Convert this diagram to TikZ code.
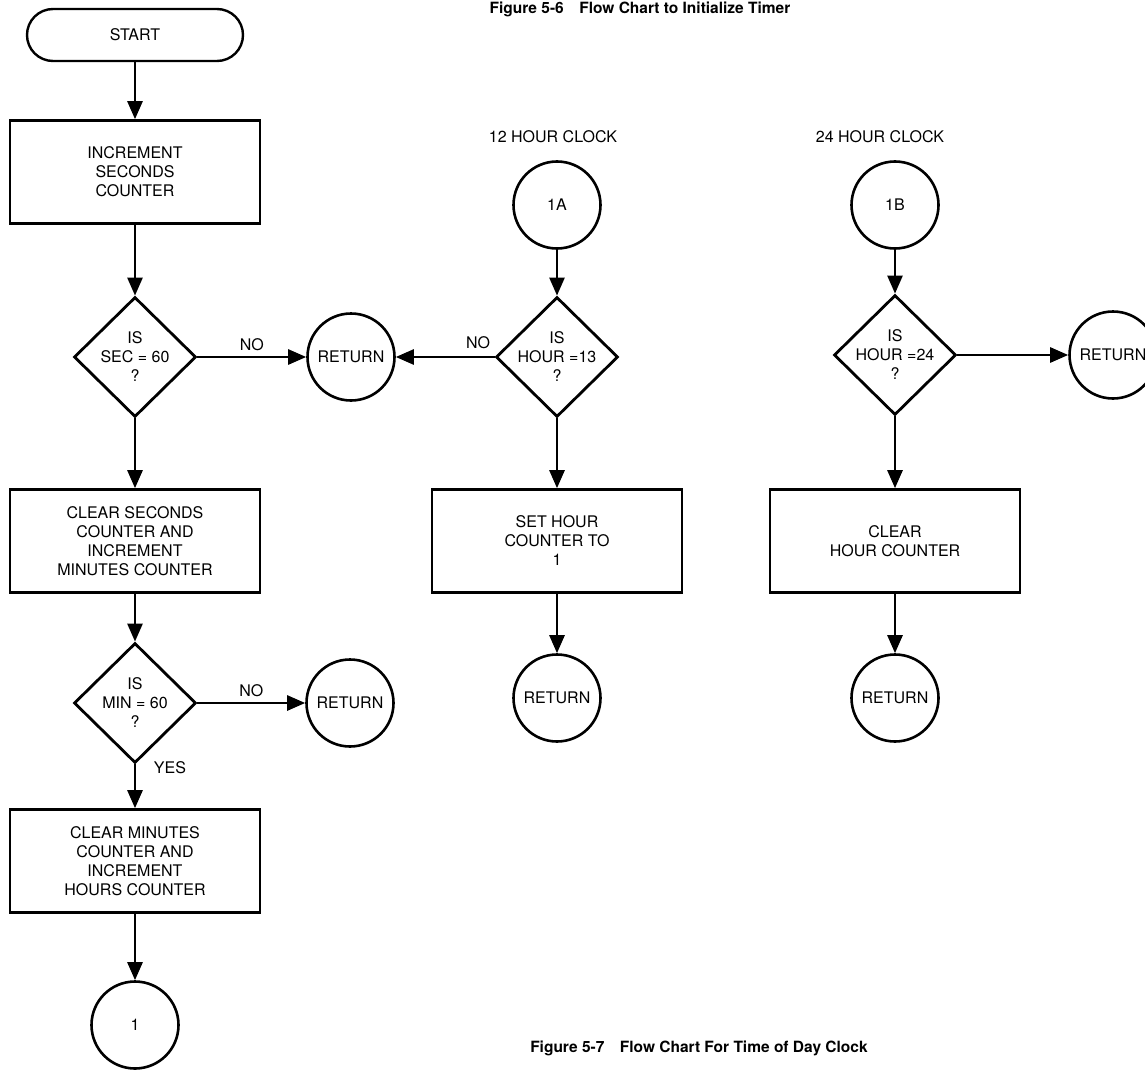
\documentclass[tikz,border=0pt]{standalone}
\usepackage{fontspec}
\setmainfont{TeX Gyre Heros}
\usetikzlibrary{shapes.geometric,arrows.meta}
\begin{document}
\begin{tikzpicture}[x=1pt,y=-1pt,
  every node/.style={font=\fontsize{16}{19}\selectfont},
  arr/.style={line width=2.6pt,-{Triangle[length=18pt,width=15pt]}},
  term/.style={draw,line width=2.4pt,rounded corners=26pt,minimum width=216pt,minimum height=52pt,inner sep=0pt},
  proc/.style={draw,line width=2.6pt,minimum width=250pt,minimum height=103pt,align=center,inner sep=0pt},
  dec/.style={draw,diamond,line width=2.8pt,minimum width=122pt,minimum height=120pt,inner sep=0pt},
  conn/.style={draw,circle,line width=2.6pt,minimum size=87pt,inner sep=0pt},
  lbl/.style={align=center,inner sep=0pt},
  figcap/.style={font=\fontsize{15.5}{18}\selectfont\bfseries,inner sep=0pt}
]
\useasboundingbox (0,0) rectangle (1145,1070);
% titles
\node[figcap] (t1) at (640,9) {Figure 5-6\quad Flow Chart to Initialize Timer};
\node[figcap] (t2) at (699,1048) {Figure 5-7\quad Flow Chart For Time of Day Clock};
% left column
\node[term] (start) at (135,35) {START};
\node[proc] (b1) at (135,172) {INCREMENT\\SECONDS\\COUNTER};
\node[dec] (d1) at (135,357) {};
\node[lbl] at (d1) {IS\\SEC = 60\\?};
\node[conn] (r1) at (351,357) {RETURN};
\node[proc] (b2) at (135,541) {CLEAR SECONDS\\COUNTER AND\\INCREMENT\\MINUTES COUNTER};
\node[dec] (d2) at (135,703) {};
\node[lbl] at (d2) {IS\\MIN = 60\\?};
\node[conn] (r2) at (350,703) {RETURN};
\node[proc] (b3) at (135,861) {CLEAR MINUTES\\COUNTER AND\\INCREMENT\\HOURS COUNTER};
\node[conn] (c1) at (135,1025) {1};
\node[lbl] (yes) at (170,768) {YES};
\draw[arr] (start) -- (b1);
\draw[arr] (b1) -- (d1);
\draw[arr] (d1) -- node[above=5pt,lbl]{NO} (r1);
\draw[arr] (d1) -- (b2);
\draw[arr] (b2) -- (d2);
\draw[arr] (d2) -- node[above=5pt,lbl]{NO} (r2);
\draw[arr] (d2) -- (b3);
\draw[arr] (b3) -- (c1);
% 12 hour
\node[lbl] (h12) at (553,137) {12 HOUR CLOCK};
\node[conn] (c1a) at (557,205) {1A};
\node[dec] (d3) at (557,357) {};
\node[lbl] at (d3) {IS\\HOUR =13\\?};
\node[proc] (b4) at (557,541) {SET HOUR\\COUNTER TO\\1};
\node[conn] (r3) at (557,698) {RETURN};
\draw[arr] (c1a) -- (d3);
\draw[arr] (d3) -- (b4);
\draw[arr] (b4) -- (r3);
\draw[arr] (d3.west) -- (r1.east);
\node[lbl] at (478,343) {NO};
% 24 hour
\node[lbl] (h24) at (880,137) {24 HOUR CLOCK};
\node[conn] (c1b) at (895,205) {1B};
\node[dec] (d4) at (895,355) {};
\node[lbl] at (d4) {IS\\HOUR =24\\?};
\node[conn] (r5) at (1113,355) {RETURN};
\node[proc] (b5) at (895,541) {CLEAR\\HOUR COUNTER};
\node[conn] (r4) at (895,698) {RETURN};
\draw[arr] (c1b) -- (d4);
\draw[arr] (d4) -- (r5);
\draw[arr] (d4) -- (b5);
\draw[arr] (b5) -- (r4);
\end{tikzpicture}
\end{document}
